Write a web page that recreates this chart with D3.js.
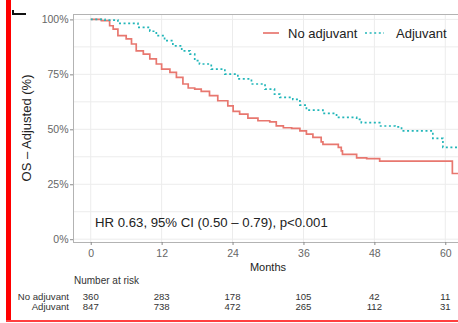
<!DOCTYPE html>
<html>
<head>
<meta charset="utf-8">
<script src="https://cdn.jsdelivr.net/npm/d3@7"></script>
<style>
  html, body { margin: 0; padding: 0; background: #fff; }
  svg { display: block; font-family: "Liberation Sans", Arial, Helvetica, sans-serif; }
</style>
</head>
<body>
<svg id="chart" width="458" height="323"></svg>
<script>
// Kaplan–Meier estimates (months, survival %) for each group
const noAdjTime = [0, 1.8, 3.2, 3.8, 4.6, 6.0, 6.9, 7.7, 8.9, 10.0, 11.1, 12.0, 13.4, 14.5, 15.6, 16.5, 17.6, 18.7, 20.1, 21.5, 23.2, 24.1, 25.2, 26.6, 28.3, 30.3, 31.4, 32.6, 34.0, 35.4, 36.5, 37.6, 39.0, 39.3, 41.9, 42.4, 42.6, 45.0, 46.7, 48.9, 61.2, 63];
const noAdjSurv = [100, 99.4, 97.1, 95.6, 92.6, 91.1, 88.8, 85.7, 84.2, 82.0, 79.7, 77.4, 75.9, 73.6, 70.6, 68.8, 68.3, 67.3, 65.3, 63.0, 60.7, 58.2, 56.9, 55.1, 53.9, 53.4, 51.6, 50.7, 50.4, 49.3, 47.8, 46.3, 44.3, 43.1, 41.8, 40.2, 38.6, 37.0, 36.7, 35.5, 29.9, 29.9];

const adjTime = [0, 2.4, 4.6, 8.0, 10.0, 11.1, 12.5, 13.9, 15.4, 16.8, 17.6, 18.4, 20.4, 22.7, 24.9, 27.2, 29.5, 31.1, 32.0, 34.2, 35.4, 36.5, 39.3, 41.6, 45.0, 45.8, 48.9, 51.5, 52.6, 57.9, 59.6, 63];
const adjSurv = [100, 99.7, 98.2, 96.4, 94.6, 92.6, 90.3, 88.0, 85.7, 84.2, 81.2, 79.7, 77.4, 75.1, 72.9, 70.6, 68.3, 66.0, 64.5, 63.6, 61.0, 58.7, 57.2, 55.4, 54.5, 53.0, 51.5, 51.1, 49.3, 45.9, 41.8, 41.8];

// Axis ticks
const monthTicks = [0, 12, 24, 36, 48, 60];
const survTicks = [0, 25, 50, 75, 100];
const survGrid = [0, 12.5, 25, 37.5, 50, 62.5, 75, 87.5, 100];

// Number at risk table
const groups = ["No adjuvant", "Adjuvant"];
const riskNoAdj = [360, 283, 178, 105, 42, 11];
const riskAdj = [847, 738, 472, 265, 112, 31];

const hrLabel = "HR 0.63, 95% CI (0.50 \u2013 0.79), p<0.001";

const colNoAdj = "#E8776F";
const colAdj = "#22B6B9";

const svg = d3.select("#chart");

// Panel geometry
const panel = { left: 73, right: 463, top: 14, bottom: 242 };
const x = d3.scaleLinear().domain([-3, 63]).range([panel.left, panel.right]);
const y = d3.scaleLinear().domain([0, 100]).range([239.2, 19.4]);

svg.append("rect").attr("width", 458).attr("height", 323).attr("fill", "#fff");

svg.append("clipPath").attr("id", "panelClip")
  .append("rect")
  .attr("x", panel.left).attr("y", panel.top)
  .attr("width", panel.right - panel.left).attr("height", panel.bottom - panel.top);

// Grid
const grid = svg.append("g").attr("stroke", "#ececec").attr("stroke-width", 1);
grid.selectAll("line.h").data(survGrid).join("line")
  .attr("x1", panel.left).attr("x2", panel.right)
  .attr("y1", d => y(d)).attr("y2", d => y(d));
grid.selectAll("line.v").data(monthTicks).join("line")
  .attr("y1", panel.top).attr("y2", panel.bottom)
  .attr("x1", d => x(d)).attr("x2", d => x(d));

// Survival curves
const line = d3.line().x(d => x(d[0])).y(d => y(d[1])).curve(d3.curveStepAfter);
const curves = svg.append("g").attr("clip-path", "url(#panelClip)").attr("fill", "none");
curves.append("path")
  .attr("d", line(noAdjTime.map((t, i) => [t, noAdjSurv[i]])))
  .attr("stroke", colNoAdj).attr("stroke-width", 1.7);
curves.append("path")
  .attr("d", line(adjTime.map((t, i) => [t, adjSurv[i]])))
  .attr("stroke", colAdj).attr("stroke-width", 1.7)
  .attr("stroke-dasharray", "2,2.6");

// Panel border
svg.append("rect")
  .attr("x", panel.left + 0.5).attr("y", panel.top + 0.5)
  .attr("width", panel.right - panel.left).attr("height", panel.bottom - panel.top)
  .attr("fill", "none").attr("stroke", "#b3b3b3").attr("stroke-width", 1);

// Axes
const yAxis = svg.append("g").attr("transform", `translate(${panel.left},0)`)
  .call(d3.axisLeft(y).tickValues(survTicks).tickFormat(d => d + "%").tickSize(3).tickPadding(1.5));
const xAxis = svg.append("g").attr("transform", `translate(0,${panel.bottom})`)
  .call(d3.axisBottom(x).tickValues(monthTicks).tickSize(3).tickPadding(4.5));
[yAxis, xAxis].forEach(a => {
  a.select(".domain").remove();
  a.selectAll(".tick line").attr("stroke", "#8a8a8a");
  a.selectAll(".tick text").attr("fill", "#666").style("font-size", "10.5px")
    .style("font-family", "'Liberation Sans', Arial, sans-serif");
});

// Axis titles
svg.append("text")
  .attr("transform", "translate(31,128) rotate(-90)")
  .attr("text-anchor", "middle").attr("fill", "#222").style("font-size", "13px")
  .text("OS \u2013 Adjusted (%)");
svg.append("text")
  .attr("x", 268).attr("y", 271).attr("text-anchor", "middle")
  .attr("fill", "#222").style("font-size", "11px").text("Months");

// Hazard ratio annotation
svg.append("text").attr("x", 95).attr("y", 227)
  .attr("fill", "#222").style("font-size", "13.2px").text(hrLabel);

// Legend
const legend = svg.append("g");
legend.append("line").attr("x1", 263).attr("x2", 279).attr("y1", 33).attr("y2", 33)
  .attr("stroke", colNoAdj).attr("stroke-width", 1.7);
legend.append("text").attr("x", 288).attr("y", 37.5).attr("fill", "#222")
  .style("font-size", "13px").text(groups[0]);
legend.append("line").attr("x1", 365).attr("x2", 384).attr("y1", 33).attr("y2", 33)
  .attr("stroke", colAdj).attr("stroke-width", 1.7).attr("stroke-dasharray", "2,2.6");
legend.append("text").attr("x", 396).attr("y", 37.5).attr("fill", "#222")
  .style("font-size", "13px").text(groups[1]);

// Number at risk
svg.append("text").attr("x", 74).attr("y", 283.5).attr("fill", "#333")
  .style("font-size", "10px").text("Number at risk");
const riskRows = [riskNoAdj, riskAdj];
const rowY = [299.5, 310];
riskRows.forEach((row, r) => {
  svg.append("text").attr("x", 69).attr("y", rowY[r]).attr("text-anchor", "end")
    .attr("fill", "#333").style("font-size", "9.6px").text(groups[r]);
  svg.append("g").selectAll("text").data(row).join("text")
    .attr("x", (d, i) => x(monthTicks[i])).attr("y", rowY[r])
    .attr("text-anchor", "middle").attr("fill", "#333").style("font-size", "9.6px")
    .text(d => d);
});

// Frame marks along the left and bottom edges
svg.append("rect").attr("x", 6).attr("y", 0).attr("width", 5).attr("height", 322).attr("fill", "#ff0000");
svg.append("rect").attr("x", 6).attr("y", 320).attr("width", 452).attr("height", 2).attr("fill", "#ff4040");
svg.append("path").attr("d", "M12,10 H14 V13 H26 V15 H12 Z").attr("fill", "#111");
</script>
</body>
</html>
